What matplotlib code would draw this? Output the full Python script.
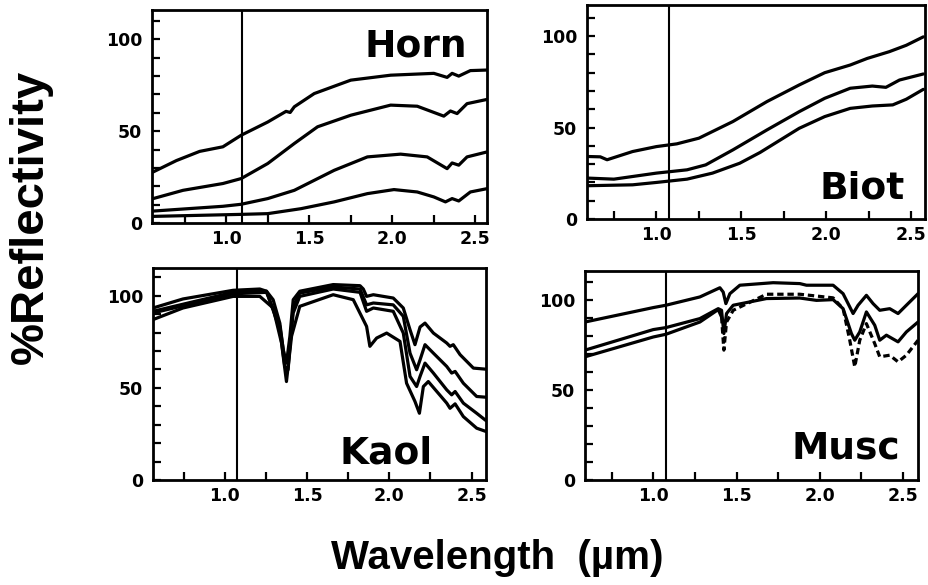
import numpy as np
import matplotlib
matplotlib.use("Agg")
import matplotlib.pyplot as plt
from matplotlib.ticker import FixedLocator

# ---- data (wavelength in um, % reflectivity) ----
horn_wl1 = [0.56, 0.70, 0.84, 0.98, 1.09, 1.25, 1.36, 1.385, 1.41, 1.53, 1.75, 1.99, 2.25, 2.33, 2.36, 2.40, 2.47, 2.57]
horn_r1 = [27.8, 34.0, 39.0, 41.5, 47.8, 55.0, 60.8, 60.2, 63.3, 70.5, 77.8, 80.5, 81.5, 79.3, 81.5, 80.0, 83.0, 83.3]
horn_wl2 = [0.56, 0.74, 0.98, 1.09, 1.25, 1.41, 1.55, 1.75, 1.99, 2.15, 2.31, 2.35, 2.39, 2.45, 2.57]
horn_r2 = [13.3, 17.8, 21.5, 24.2, 32.4, 43.3, 52.4, 58.7, 64.2, 63.6, 58.2, 61.0, 59.6, 65.0, 67.3]
horn_wl3 = [0.56, 0.98, 1.09, 1.25, 1.41, 1.65, 1.85, 2.05, 2.21, 2.33, 2.36, 2.40, 2.45, 2.57]
horn_r3 = [6.5, 9.1, 10.2, 13.3, 17.8, 28.7, 36.0, 37.5, 36.0, 29.6, 32.7, 31.5, 36.0, 38.7]
horn_wl4 = [0.56, 1.09, 1.25, 1.45, 1.65, 1.85, 2.01, 2.15, 2.25, 2.32, 2.36, 2.40, 2.47, 2.57]
horn_r4 = [3.6, 4.7, 5.1, 7.8, 11.5, 16.0, 18.2, 16.9, 14.2, 11.5, 13.3, 12.0, 16.9, 18.7]

biot_wl1 = [0.59, 0.67, 0.71, 0.86, 1.00, 1.12, 1.25, 1.45, 1.65, 1.84, 1.99, 2.14, 2.24, 2.37, 2.47, 2.57]
biot_r1 = [34.2, 34.0, 32.4, 36.9, 39.6, 41.1, 44.2, 53.3, 64.2, 73.3, 80.0, 84.2, 87.8, 91.5, 95.0, 99.6]
biot_wl2 = [0.59, 0.75, 1.00, 1.18, 1.29, 1.45, 1.65, 1.84, 1.99, 2.14, 2.27, 2.35, 2.43, 2.57]
biot_r2 = [22.4, 21.8, 25.1, 26.9, 29.6, 37.8, 48.7, 58.7, 66.0, 71.5, 72.7, 72.0, 76.0, 79.3]
biot_wl3 = [0.59, 0.86, 1.00, 1.18, 1.33, 1.49, 1.61, 1.84, 1.99, 2.14, 2.27, 2.39, 2.47, 2.57]
biot_r3 = [18.2, 18.7, 20.0, 21.8, 25.1, 30.5, 36.4, 49.6, 56.0, 60.5, 61.8, 62.4, 65.5, 70.9]

kaol_wl1 = [0.564, 0.746, 1.051, 1.213, 1.254, 1.294, 1.335, 1.355, 1.375, 1.396, 1.416, 1.456, 1.659, 1.822,
            1.842, 1.862, 1.903, 2.024, 2.085, 2.126, 2.156, 2.187, 2.217, 2.268, 2.349, 2.369, 2.389, 2.430, 2.511, 2.588]
kaol_r1 = [93.3, 98.2, 102.9, 103.6, 102.4, 97.8, 85.0, 70.7, 63.4, 78.0, 97.8, 102.4, 106.0, 105.4,
           103.6, 99.6, 100.5, 98.7, 93.3, 81.5, 73.4, 83.0, 85.1, 79.7, 74.3, 72.5, 73.4, 68.0, 60.7, 60.1]
kaol_wl23 = [0.564, 1.051, 1.254, 1.335, 1.365, 1.385, 1.416, 1.456, 1.659, 1.822, 1.862, 1.903, 2.024,
             2.085, 2.126, 2.166, 2.187, 2.217, 2.268, 2.349, 2.379, 2.400, 2.450, 2.531, 2.588]
kaol_r2 = [91.5, 101.8, 102.4, 81.5, 61.6, 59.8, 94.2, 101.4, 104.7, 103.6, 95.0, 96.0, 95.0,
           88.8, 68.8, 59.8, 65.2, 73.4, 68.8, 61.6, 58.0, 58.9, 52.5, 45.3, 44.9]
kaol_r3 = [90.6, 101.0, 101.8, 83.3, 65.2, 63.4, 90.6, 99.6, 103.6, 101.8, 91.5, 93.3, 91.5,
           79.7, 56.2, 50.7, 56.2, 63.4, 58.0, 48.9, 46.2, 48.0, 41.7, 36.2, 32.2]
kaol_wl4 = [0.564, 0.746, 1.051, 1.213, 1.294, 1.345, 1.375, 1.406, 1.456, 1.659, 1.781, 1.862, 1.882, 1.923,
            1.984, 2.065, 2.105, 2.156, 2.183, 2.207, 2.237, 2.349, 2.369, 2.400, 2.450, 2.531, 2.588]
kaol_r4 = [87.0, 93.3, 99.6, 99.6, 93.3, 74.3, 53.4, 78.0, 94.2, 100.5, 97.8, 83.3, 72.5, 77.0,
           79.7, 75.2, 52.5, 42.6, 36.2, 50.7, 53.4, 41.7, 38.9, 41.3, 34.4, 28.1, 26.3]

musc_wl1 = [0.59, 1.00, 1.076, 1.28, 1.40, 1.42, 1.436, 1.46, 1.52, 1.72, 1.88, 1.92, 2.08, 2.14, 2.20,
            2.23, 2.28, 2.32, 2.36, 2.42, 2.47, 2.52, 2.59]
musc_r1 = [87.6, 95.6, 96.9, 101.5, 106.6, 104.2, 97.8, 103.3, 108.0, 109.4, 108.9, 108.0, 108.0, 103.3, 92.3,
           96.9, 102.4, 97.8, 94.1, 95.0, 92.3, 96.9, 103.3]
musc_wl2 = [0.59, 1.00, 1.076, 1.28, 1.39, 1.41, 1.424, 1.44, 1.48, 1.68, 1.88, 1.98, 2.08, 2.14, 2.19,
            2.21, 2.24, 2.28, 2.33, 2.36, 2.40, 2.47, 2.52, 2.59]
musc_r2 = [72.0, 83.4, 84.5, 89.5, 95.0, 94.1, 81.2, 92.3, 96.9, 100.6, 100.9, 99.6, 100.0, 95.0, 81.2,
           77.5, 82.1, 93.2, 85.8, 77.5, 80.3, 76.6, 82.1, 87.6]
musc_wl3 = [0.59, 1.00, 1.076, 1.28, 1.39, 1.41, 1.424, 1.44, 1.48, 1.68, 1.88, 2.08, 2.14, 2.18,
            2.21, 2.24, 2.28, 2.33, 2.36, 2.42, 2.47, 2.52, 2.59]
musc_r3 = [68.3, 79.3, 80.8, 87.6, 94.5, 90.4, 72.0, 87.6, 94.1, 103.0, 103.0, 101.0, 95.0, 77.5,
           62.7, 77.5, 86.7, 75.6, 68.3, 69.2, 65.5, 69.2, 77.5]

panel_names = ["Horn", "Biot", "Kaol", "Musc"]
cutoff = [1.094, 1.073, 1.077, 1.076]   # detector change marked by the vertical line
xtick_labels = ["1.0", "1.5", "2.0", "2.5"]
ytick_labels = ["0", "50", "100"]

# ---- layout ----
fig = plt.figure(figsize=(9.29, 5.85), dpi=100)
boxes = [
    [0.1636, 0.6188, 0.3606, 0.3641],
    [0.6319, 0.6256, 0.3638, 0.3658],
    [0.1647, 0.1795, 0.3585, 0.3624],
    [0.6297, 0.1795, 0.3585, 0.3573],
]
xlims = [(0.553, 2.57), (0.592, 2.58), (0.564, 2.588), (0.59, 2.59)]
ylims = [(0, 116), (0, 117), (0, 115), (0, 115.9)]
label_pos = [(0.94, 0.78), (0.94, 0.098), (0.84, 0.08), (0.946, 0.105)]

LW = 2.3
tick_font = dict(family="DejaVu Sans", weight="bold", size=12.5)

axes = [fig.add_axes(b) for b in boxes]
curves = [
    [(horn_wl1, horn_r1), (horn_wl2, horn_r2), (horn_wl3, horn_r3), (horn_wl4, horn_r4)],
    [(biot_wl1, biot_r1), (biot_wl2, biot_r2), (biot_wl3, biot_r3)],
    [(kaol_wl1, kaol_r1), (kaol_wl23, kaol_r2), (kaol_wl23, kaol_r3), (kaol_wl4, kaol_r4)],
    [(musc_wl1, musc_r1), (musc_wl2, musc_r2)],
]

for i, ax in enumerate(axes):
    for wl, r in curves[i]:
        ax.plot(wl, r, color="black", lw=LW, solid_capstyle="round", solid_joinstyle="round")
    ax.axvline(cutoff[i], color="black", lw=1.5)
    ax.set_xlim(*xlims[i])
    ax.set_ylim(*ylims[i])

    ax.xaxis.set_major_locator(FixedLocator([1.0, 1.5, 2.0, 2.5]))
    ax.xaxis.set_minor_locator(FixedLocator([0.75, 1.25, 1.75, 2.25]))
    ax.yaxis.set_major_locator(FixedLocator([0, 50, 100]))
    ax.yaxis.set_minor_locator(FixedLocator([10, 20, 30, 40, 60, 70, 80, 90, 110]))
    ax.set_xticklabels(xtick_labels, fontdict=tick_font)
    ax.set_yticklabels(ytick_labels, fontdict=tick_font)
    ax.tick_params(which="both", direction="in", length=6, width=1.6, color="black")
    ax.tick_params(axis="x", pad=5)
    ax.tick_params(axis="y", pad=7)
    for s in ax.spines.values():
        s.set_linewidth(2.0)

    ax.text(label_pos[i][0], label_pos[i][1], panel_names[i], transform=ax.transAxes,
            ha="right", va="baseline", fontsize=27, fontweight="bold", family="DejaVu Sans")

# muscovite: third spectrum is solid below 1.41 um and dashed above
ax = axes[3]
wl3 = np.array(musc_wl3)
r3 = np.array(musc_r3)
lo = wl3 <= 1.41
hi = wl3 >= 1.41
ax.plot(wl3[lo], r3[lo], color="black", lw=LW, solid_capstyle="round")
ax.plot(wl3[hi], r3[hi], color="black", lw=LW, linestyle=(0, (2.0, 1.2)))

fig.text(0.033, 0.63, "%Reflectivity", rotation=90, ha="center", va="center",
         fontsize=34, fontweight="bold", family="Liberation Sans")
fig.text(0.535, 0.047, "Wavelength  (\u00b5m)", ha="center", va="center",
         fontsize=29, fontweight="bold", family="Liberation Sans")

fig.savefig("out.png", dpi=100, facecolor="white")
